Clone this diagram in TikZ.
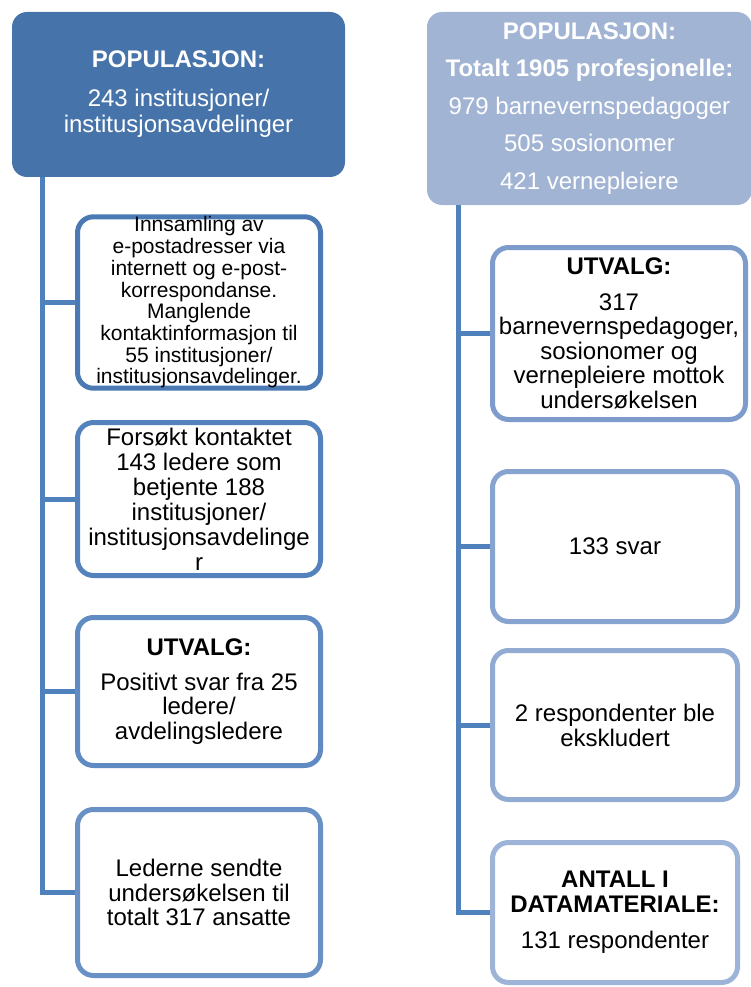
\documentclass[tikz,border=0pt]{standalone}
\usepackage{fontspec}
\setmainfont{Liberation Sans}
\definecolor{popdark}{HTML}{4674AA}
\definecolor{poplight}{HTML}{A2B4D4}
\definecolor{stemblue}{HTML}{4F81BD}
\definecolor{edgeA}{HTML}{4A79B4}
\definecolor{edgeB}{HTML}{5482BD}
\definecolor{edgeC}{HTML}{5F8AC2}
\definecolor{edgeD}{HTML}{6A91C6}
\definecolor{edgeE}{HTML}{7D9BCB}
\definecolor{edgeF}{HTML}{87A3CF}
\definecolor{edgeG}{HTML}{92ABD3}
\definecolor{edgeH}{HTML}{9DB3D7}
\begin{document}
\begin{tikzpicture}[x=1pt,y=-1pt,
topbox/.style={rounded corners=15pt, inner sep=0pt, align=center, text=white,
  font=\fontsize{24}{26}\selectfont},
subbox/.style={draw, line width=5pt, rounded corners=16pt, fill=white, inner sep=0pt,
  align=center, font=\fontsize{24}{24.5}\selectfont},
stem/.style={draw=stemblue, line width=5pt}
]
\useasboundingbox (0,0) rectangle (750,987);
% venstre side
\node[topbox, fill=popdark, minimum width=333pt, minimum height=165pt] (popL) at (178.5,94.5)
  {\textbf{POPULASJON:}\\[13pt]243 institusjoner/\\institusjonsavdelinger};
\node[subbox, draw=edgeA, minimum width=243pt, minimum height=166pt,
  font=\fontsize{21}{21.7}\selectfont] (innsamling) at (199,302.5)
  {Innsamling av\\e-postadresser via\\internett og e-post-\\korrespondanse.\\Manglende\\kontaktinformasjon til\\55 institusjoner/\\institusjonsavdelinger.};
\node[subbox, draw=edgeB, minimum width=243pt, minimum height=153pt,
  font=\fontsize{24}{25}\selectfont] (kontakt) at (199,499)
  {Forsøkt kontaktet\\143 ledere som\\betjente 188\\institusjoner/\\institusjonsavdelinge\\r};
\node[subbox, draw=edgeC, minimum width=243pt, minimum height=148pt] (utvalgL) at (199,691.5)
  {\textbf{UTVALG:}\\[10pt]Positivt svar fra 25\\ledere/\\avdelingsledere};
\node[subbox, draw=edgeD, minimum width=243pt, minimum height=166pt] (ledere) at (199,892.5)
  {Lederne sendte\\undersøkelsen til\\totalt 317 ansatte};
\coordinate (stemL) at (42.5,177);
\draw[stem] (stemL) |- (ledere.west);
\foreach \b in {innsamling,kontakt,utvalgL}
  \draw[stem] (stemL |- \b.west) -- (\b.west);
% høyre side
\node[topbox, fill=poplight, minimum width=325pt, minimum height=193pt,
  font=\fontsize{24}{37.5}\selectfont] (popR) at (589.5,108.5)
  {\textbf{POPULASJON:}\\\textbf{Totalt 1905 profesjonelle:}\\979 barnevernspedagoger\\505 sosionomer\\421 vernepleiere};
\node[subbox, draw=edgeE, minimum width=253pt, minimum height=172pt] (utvalgR) at (619,333.5)
  {\textbf{UTVALG:}\\[11pt]317\\barnevernspedagoger,\\sosionomer og\\vernepleiere mottok\\undersøkelsen};
\node[subbox, draw=edgeF, minimum width=245pt, minimum height=150pt] (svar) at (615,546.5)
  {133 svar};
\node[subbox, draw=edgeG, minimum width=245pt, minimum height=149pt,
  font=\fontsize{24}{25}\selectfont] (ekskl) at (615,725)
  {2 respondenter ble\\ekskludert};
\node[subbox, draw=edgeH, minimum width=245pt, minimum height=140pt] (antall) at (615,912.5)
  {\textbf{ANTALL I}\\\textbf{DATAMATERIALE:}\\[12pt]131 respondenter};
\coordinate (stemR) at (458,205);
\draw[stem] (stemR) |- (antall.west);
\foreach \b in {utvalgR,svar,ekskl}
  \draw[stem] (stemR |- \b.west) -- (\b.west);
\end{tikzpicture}
\end{document}
